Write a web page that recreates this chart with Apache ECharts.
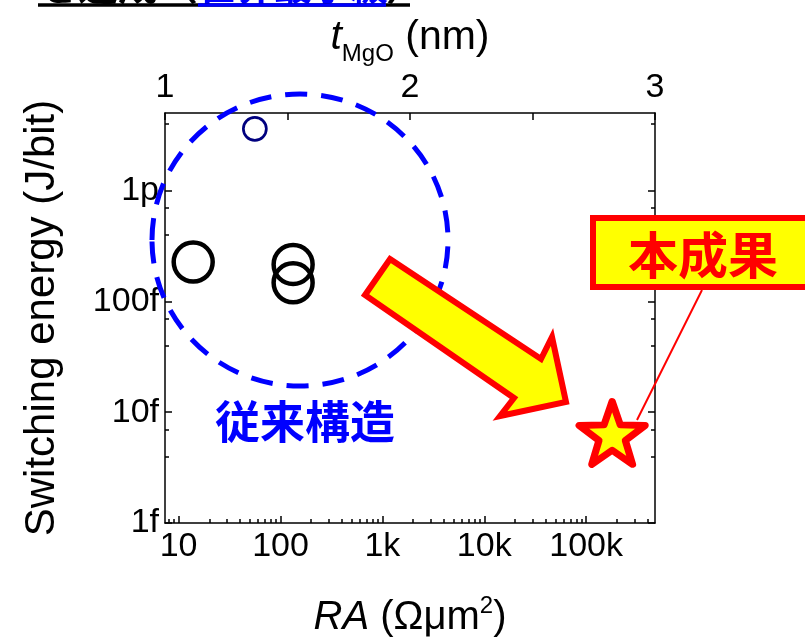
<!DOCTYPE html>
<html>
<head>
<meta charset="utf-8">
<script src="https://cdn.jsdelivr.net/npm/echarts@6/dist/echarts.min.js"></script>
<style>
  html, body { margin: 0; padding: 0; background: #ffffff; }
  #chart { width: 805px; height: 638px; }
</style>
</head>
<body>
<div id="chart"></div>
<script>
// Conventional MTJs (RA in Ω·µm², switching energy in fJ/bit)
const priorRA = [13.9, 133, 133];
const priorEnergy = [226, 215, 147];
// Thin-barrier reference device
const thinRA = [56];
const thinEnergy = [3600];
// This work
const thisWorkRA = [180000];
const thisWorkEnergy = [6.5];

// Axis ticks
const raTicks = [10, 100, 1000, 10000, 100000];
const raTickLabels = ['10', '100', '1k', '10k', '100k'];
const raMinorTicks = [8, 9,
  20, 30, 40, 50, 60, 70, 80, 90,
  200, 300, 400, 500, 600, 700, 800, 900,
  2000, 3000, 4000, 5000, 6000, 7000, 8000, 9000,
  20000, 30000, 40000, 50000, 60000, 70000, 80000, 90000,
  200000, 300000, 400000];
const energyTicks = [1, 10, 100, 1000];
const energyTickLabels = ['1f', '10f', '100f', '1p'];
const energyMinorTicks = [4, 7, 40, 70, 400, 700, 4000];
const tMgOTicks = [1, 1.5, 2, 2.5, 3];
const tMgOTickLabels = [1, 2, 3];

const RA_MIN = 7.35, RA_MAX = 474000;
const E_MIN = 1, E_MAX = 5000;

const FONT = '"Liberation Sans", Arial, sans-serif';
const CJK = '"Noto Sans CJK JP", sans-serif';
const STAR = 'path://M50,0L61.76,33.82L97.55,34.55L69.02,56.18L79.39,90.45L50,70L20.61,90.45L30.98,56.18L2.45,34.55L38.24,33.82Z';

function pairs(xs, ys) { return xs.map((x, i) => [x, ys[i]]); }
function lookup(ticks, labels) {
  return v => {
    const i = ticks.findIndex(t => Math.abs(Math.log10(t) - Math.log10(v)) < 1e-6);
    return i >= 0 ? labels[i] : '';
  };
}

const lineBlack = { color: '#000', width: 1.5 };

const chart = echarts.init(document.getElementById('chart'), null, { renderer: 'canvas' });

chart.setOption({
  animation: false,
  backgroundColor: '#ffffff',
  grid: { left: 165, top: 113, width: 490, height: 410, containLabel: false, outerBoundsMode: 'none' },
  xAxis: [
    {
      type: 'log', logBase: 10, position: 'bottom', min: RA_MIN, max: RA_MAX,
      axisLine: { show: true, lineStyle: lineBlack },
      axisTick: { show: true, inside: true, length: 7, customValues: raTicks, lineStyle: lineBlack },
      axisLabel: { show: true, customValues: raTicks, formatter: lookup(raTicks, raTickLabels),
        fontSize: 34, fontFamily: FONT, color: '#000', margin: 7 },
      splitLine: { show: false },
      name: '{i|RA} {n|(Ωμm}{s|2}{n|)}',
      nameLocation: 'middle', nameGap: 71,
      nameTextStyle: {
        fontSize: 40, fontFamily: FONT, color: '#000',
        rich: {
          i: { fontSize: 40, fontStyle: 'italic', fontFamily: FONT, color: '#000', lineHeight: 44, verticalAlign: 'bottom' },
          n: { fontSize: 40, fontFamily: FONT, color: '#000', lineHeight: 44, verticalAlign: 'bottom' },
          s: { fontSize: 24, fontFamily: FONT, color: '#000', lineHeight: 24, verticalAlign: 'top' }
        }
      }
    },
    {
      type: 'log', logBase: 10, position: 'bottom', min: RA_MIN, max: RA_MAX,
      axisLine: { show: false },
      axisTick: { show: true, inside: true, length: 4, customValues: raMinorTicks, lineStyle: lineBlack },
      axisLabel: { show: false },
      splitLine: { show: false }
    },
    {
      type: 'value', position: 'top', min: 1, max: 3, interval: 0.5,
      axisLine: { show: true, lineStyle: lineBlack },
      axisTick: { show: true, inside: true, length: 7, customValues: tMgOTicks, lineStyle: lineBlack },
      axisLabel: { show: true, customValues: tMgOTickLabels, fontSize: 34, fontFamily: FONT, color: '#000', margin: 8 },
      splitLine: { show: false },
      name: '{t|t}{s|MgO}{n| (nm)}',
      nameLocation: 'middle', nameGap: 52,
      nameTextStyle: {
        fontSize: 41, fontFamily: FONT, color: '#000',
        rich: {
          t: { fontSize: 41, fontStyle: 'italic', fontFamily: FONT, color: '#000', lineHeight: 42, verticalAlign: 'top' },
          s: { fontSize: 24, fontFamily: FONT, color: '#000', lineHeight: 24, padding: [25, 0, 0, 0], verticalAlign: 'top' },
          n: { fontSize: 41, fontFamily: FONT, color: '#000', lineHeight: 42, verticalAlign: 'top' }
        }
      }
    }
  ],
  yAxis: [
    {
      type: 'log', logBase: 10, position: 'left', min: E_MIN, max: E_MAX,
      axisLine: { show: true, lineStyle: lineBlack },
      axisTick: { show: true, inside: true, length: 7, customValues: energyTicks, lineStyle: lineBlack },
      axisLabel: { show: true, customValues: energyTicks, formatter: lookup(energyTicks, energyTickLabels),
        fontSize: 34, fontFamily: FONT, color: '#000', margin: 6 },
      splitLine: { show: false },
      name: 'Switching energy (J/bit)',
      nameLocation: 'middle', nameGap: 102, nameRotate: 90,
      nameTextStyle: { fontSize: 42, fontFamily: FONT, color: '#000' }
    },
    {
      type: 'log', logBase: 10, position: 'left', min: E_MIN, max: E_MAX,
      axisLine: { show: false },
      axisTick: { show: true, inside: true, length: 4, customValues: energyMinorTicks, lineStyle: lineBlack },
      axisLabel: { show: false },
      splitLine: { show: false }
    },
    {
      type: 'log', logBase: 10, position: 'right', min: E_MIN, max: E_MAX,
      axisLine: { show: true, lineStyle: lineBlack },
      axisTick: { show: true, inside: true, length: 7, customValues: energyTicks, lineStyle: lineBlack },
      axisLabel: { show: false },
      splitLine: { show: false }
    },
    {
      type: 'log', logBase: 10, position: 'right', min: E_MIN, max: E_MAX,
      axisLine: { show: false },
      axisTick: { show: true, inside: true, length: 4, customValues: energyMinorTicks, lineStyle: lineBlack },
      axisLabel: { show: false },
      splitLine: { show: false }
    }
  ],
  series: [
    {
      name: 'conventional', type: 'scatter', xAxisIndex: 0, yAxisIndex: 0,
      data: pairs(priorRA, priorEnergy),
      symbol: 'circle', symbolSize: 39,
      itemStyle: { color: 'rgba(0,0,0,0)', borderColor: '#000000', borderWidth: 4.5, opacity: 1 },
      emphasis: { disabled: true }, z: 3
    },
    {
      name: 'thin', type: 'scatter', xAxisIndex: 0, yAxisIndex: 0,
      data: pairs(thinRA, thinEnergy),
      symbol: 'circle', symbolSize: 23,
      itemStyle: { color: 'rgba(0,0,0,0)', borderColor: '#00007f', borderWidth: 2.7, opacity: 1 },
      emphasis: { disabled: true }, z: 3
    },
    {
      name: 'this work', type: 'scatter', xAxisIndex: 0, yAxisIndex: 0,
      data: pairs(thisWorkRA, thisWorkEnergy),
      symbol: STAR, symbolSize: [66, 63], symbolKeepAspect: false,
      itemStyle: { color: '#ffff00', borderColor: '#ff0000', borderWidth: 7, borderJoin: 'round', opacity: 1 },
      emphasis: { disabled: true }, z: 4
    }
  ],
  graphic: [
    // clipped heading line at the very top
    { type: 'text', x: 38, y: 5, z: 20, style: { text: 'を達成（', font: 'bold 40px ' + CJK, fill: '#000', textVerticalAlign: 'bottom' } },
    { type: 'text', x: 198, y: 5, z: 20, style: { text: '世界最小級', font: 'bold 38px ' + CJK, fill: '#0000ff', textVerticalAlign: 'bottom' } },
    { type: 'text', x: 386, y: 5, z: 20, style: { text: '）', font: 'bold 38px ' + CJK, fill: '#000', textVerticalAlign: 'bottom' } },
    { type: 'line', z: 20, shape: { x1: 38, y1: 5, x2: 410, y2: 5 }, style: { stroke: '#000', lineWidth: 3.5 } },
    { type: 'line', z: 21, shape: { x1: 198, y1: 5, x2: 386, y2: 5 }, style: { stroke: '#0000ff', lineWidth: 3.5 } },

    // dashed outline around the conventional devices
    { type: 'ellipse', z: 10, shape: { cx: 300, cy: 240, rx: 148, ry: 146 },
      style: { fill: 'none', stroke: '#0000ff', lineWidth: 5, lineDash: [22, 14] } },
    { type: 'text', x: 305, y: 422, z: 10,
      style: { text: '従来構造', font: 'bold 45px ' + CJK, fill: '#0000ff', textAlign: 'center', textVerticalAlign: 'middle' } },

    // big arrow
    { type: 'polygon', z: 12,
      shape: { points: [[390, 259], [541, 359], [552, 337], [566, 402], [500, 416], [514, 398], [365, 295]] },
      style: { fill: '#ffff00', stroke: '#ff0000', lineWidth: 6, lineJoin: 'miter' } },

    // callout for this work
    { type: 'line', z: 1, shape: { x1: 702, y1: 290, x2: 637, y2: 420 }, style: { stroke: '#ff0000', lineWidth: 2 } },
    { type: 'rect', z: 12, shape: { x: 593, y: 218, width: 260, height: 69 },
      style: { fill: '#ffff00', stroke: '#ff0000', lineWidth: 6 } },
    { type: 'text', x: 703, y: 255, z: 13,
      style: { text: '本成果', font: 'bold 50px ' + CJK, fill: '#ff0000', textAlign: 'center', textVerticalAlign: 'middle' } }
  ]
});
</script>
</body>
</html>
